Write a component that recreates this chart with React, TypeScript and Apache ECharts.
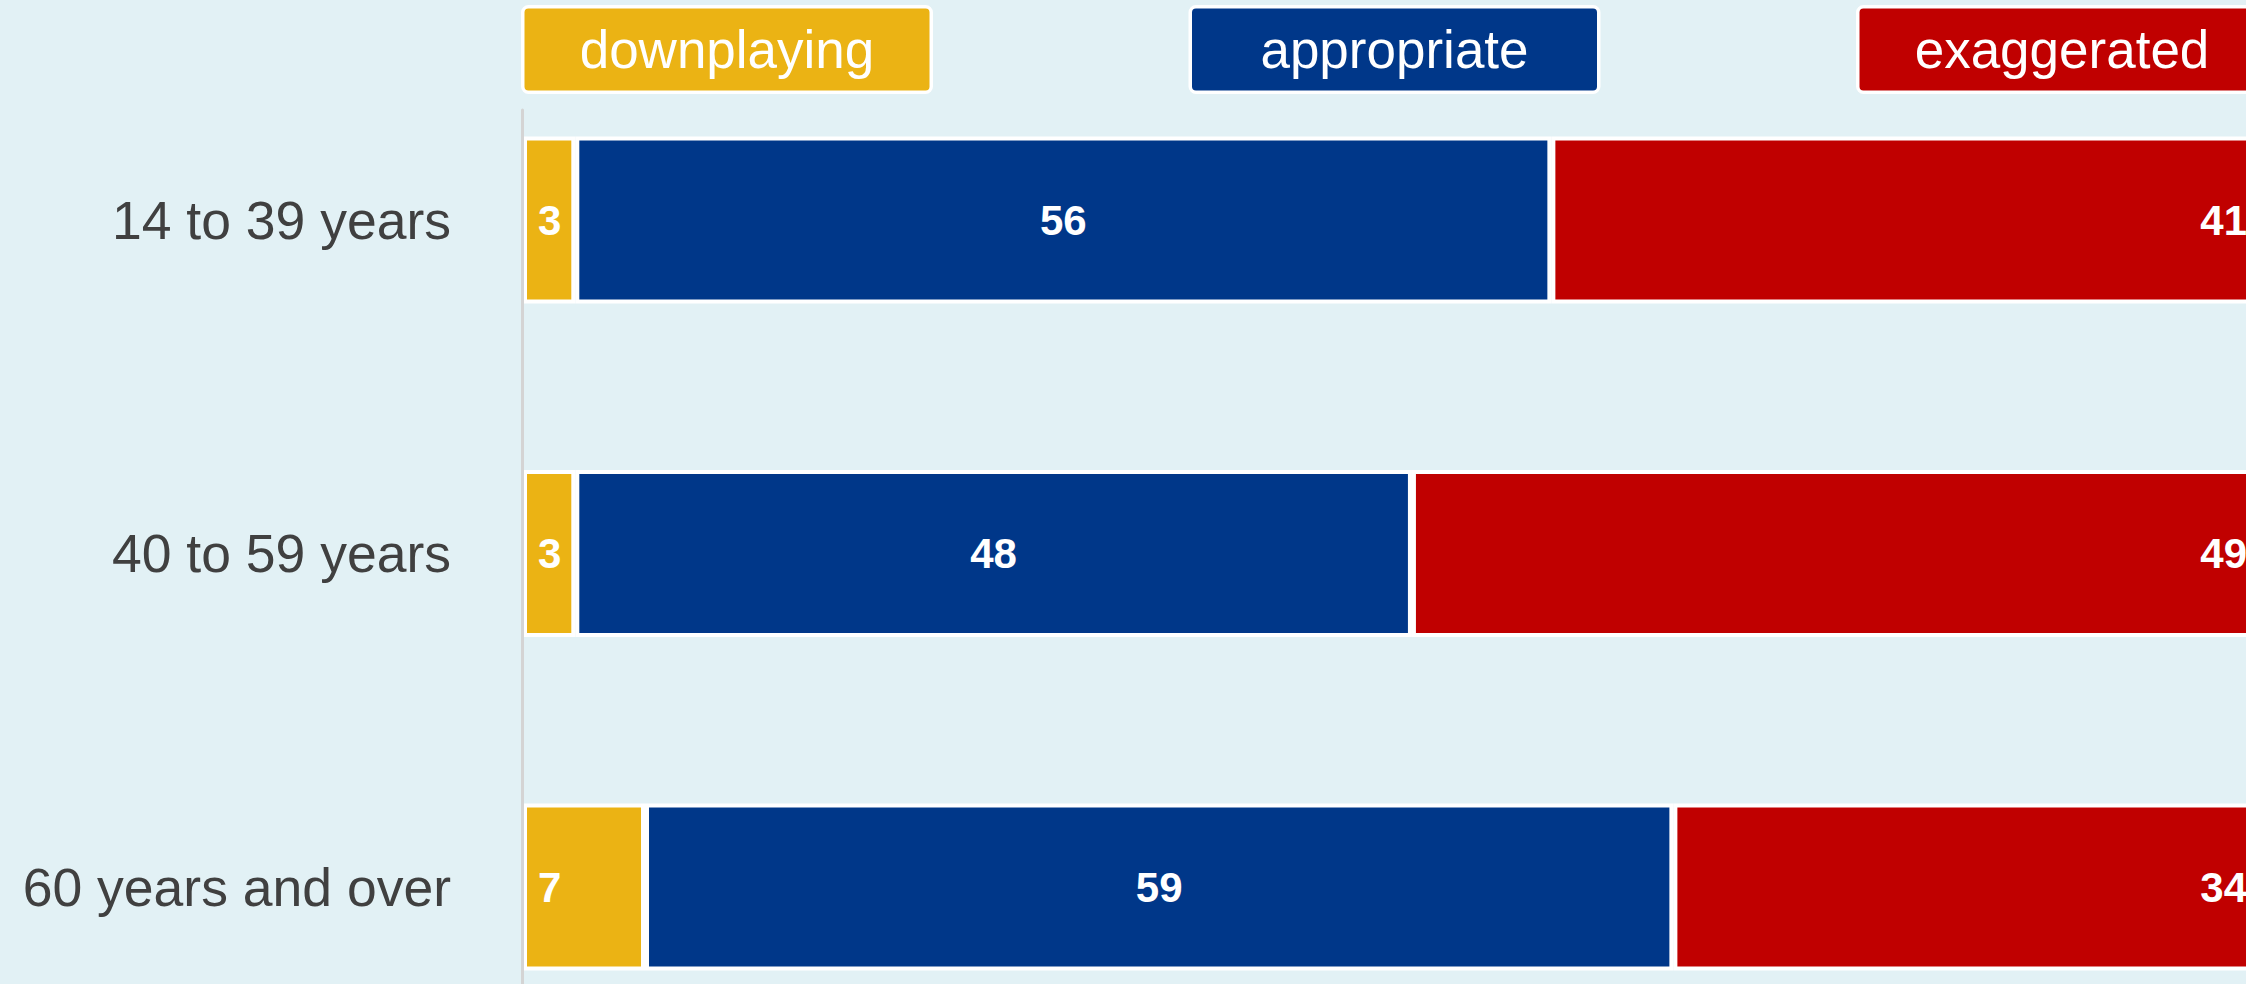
import React, { useEffect, useRef } from "react";
import * as echarts from "echarts";

const categories = ["14 to 39 years", "40 to 59 years", "60 years and over"];
const seriesNames = ["downplaying", "appropriate", "exaggerated"];
const downplaying = [3, 3, 7];
const appropriate = [56, 48, 59];
const exaggerated = [41, 49, 34];

const COLORS = ["#EBB314", "#003789", "#C00000"];
const BG = "#E2F1F5";
const FONT = "'Liberation Sans', Arial, sans-serif";

export default function App() {
  const ref = useRef<HTMLDivElement>(null);
  useEffect(() => {
    if (!ref.current) return;
    const chart = echarts.init(ref.current, undefined, { renderer: "svg" });
    const values = [downplaying, appropriate, exaggerated];
    const labelCfg = [
      { position: "insideLeft", distance: 15 },
      { position: "inside", distance: 5 },
      { position: "insideRight", distance: 19 },
    ];
    const rich: Record<string, any> = {};
    seriesNames.forEach((_, i) => {
      rich["k" + i] = {
        color: "#fff",
        fontSize: 53,
        fontFamily: FONT,
        backgroundColor: COLORS[i],
        borderColor: "#fff",
        borderWidth: 3.5,
        borderRadius: 4,
        width: 405,
        height: 82,
        lineHeight: 82,
        align: "center",
        verticalAlign: "middle",
      };
    });
    chart.setOption({
      animation: false,
      backgroundColor: BG,
      textStyle: { fontFamily: FONT },
      legend: {
        data: seriesNames,
        left: 519.5,
        top: 5,
        width: 2000,
        padding: 0,
        itemWidth: 0,
        itemHeight: 82,
        itemGap: 254,
        icon: "none",
        selectedMode: false,
        formatter: (name: string) => `{k${seriesNames.indexOf(name)}|${name}}`,
        textStyle: { color: "#fff", fontSize: 53, fontFamily: FONT, rich },
      },
      grid: [
        { left: 523, top: 53.25, width: 1743, height: 1000.5, outerBoundsMode: "none", containLabel: false },
        { left: 522, top: 110, width: 1743, height: 900, outerBoundsMode: "none", containLabel: false },
      ],
      xAxis: [
        { type: "value", gridIndex: 0, min: 0, max: 100, show: false },
        { type: "value", gridIndex: 1, min: 0, max: 100, show: false },
      ],
      yAxis: [
        {
          type: "category",
          gridIndex: 0,
          data: categories,
          inverse: true,
          axisLine: { show: false },
          axisTick: { show: false },
          splitLine: { show: false },
          axisLabel: {
            margin: 72,
            fontSize: 53.5,
            color: "#404040",
            fontFamily: FONT,
          },
        },
        {
          type: "category",
          gridIndex: 1,
          data: [""],
          axisLine: { show: true, lineStyle: { color: "#D4D4D4", width: 3 } },
          axisTick: { show: false },
          axisLabel: { show: false },
          splitLine: { show: false },
          z: 10,
        },
      ],
      series: seriesNames.map((name, i) => ({
        name,
        type: "bar",
        stack: "total",
        xAxisIndex: 0,
        yAxisIndex: 0,
        barWidth: 167,
        data: values[i],
        itemStyle: { color: COLORS[i], borderColor: "#fff", borderWidth: 4 },
        label: {
          show: true,
          position: labelCfg[i].position,
          distance: labelCfg[i].distance,
          color: "#fff",
          fontSize: 42,
          fontWeight: "bold",
          fontFamily: FONT,
        },
      })),
    });
    return () => chart.dispose();
  }, []);
  return (
    <div
      style={{
        position: "fixed",
        left: 0,
        top: 0,
        width: 2246,
        height: 984,
        overflow: "hidden",
        background: BG,
      }}
    >
      <div ref={ref} style={{ width: 2246, height: 984 }} />
    </div>
  );
}
